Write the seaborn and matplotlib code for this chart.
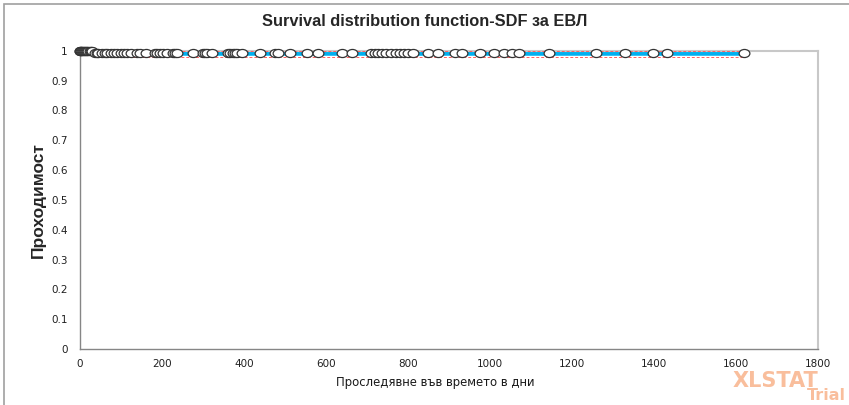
import numpy as np
import pandas as pd
import matplotlib
matplotlib.use("Agg")
import matplotlib.pyplot as plt
import seaborn as sns
from matplotlib.path import Path
from matplotlib.transforms import Affine2D
from matplotlib.patches import Rectangle

# censored observations (days) still at survival 1 before the single event
censored_early = [0, 1, 2, 3, 5, 7, 9, 11, 14, 17, 20, 24, 27, 30]
event_day = 33
surv_after = 0.9933
lower_after = 0.979
upper_after = 1.0
last_day = 1620

# censored observations after the event (days)
censored_late = [36, 41, 45, 54, 60, 66, 76, 83, 90, 100, 107, 115, 124, 139, 146, 161, 182,
                 188, 195, 202, 212, 228, 232, 237, 276, 300, 305, 310, 322, 362, 366, 373,
                 378, 383, 395, 439, 476, 483, 512, 554, 580, 639, 663, 710, 720, 727, 737,
                 746, 759, 771, 780, 790, 800, 812, 849, 873, 915, 932, 976, 1010, 1034,
                 1054, 1071, 1144, 1259, 1329, 1398, 1432, 1620]

step_t = [0, event_day, last_day]
step_s = [1.0, surv_after, surv_after]
step_lo = [1.0, lower_after, lower_after]
step_hi = [1.0, upper_after, upper_after]

curve = pd.DataFrame({"t": step_t, "s": step_s, "lo": step_lo, "hi": step_hi})
pts = pd.DataFrame({
    "t": censored_early + censored_late,
    "s": [1.0] * len(censored_early) + [surv_after] * len(censored_late),
})

sns.set_style("white")
plt.rcParams["font.family"] = ["DejaVu Sans"]

fig = plt.figure(figsize=(8.49, 4.05), dpi=100)
ax = fig.add_axes([80 / 849, 1 - 349 / 405, 738 / 849, 298.3 / 405])

sns.lineplot(data=curve, x="t", y="s", drawstyle="steps-post", color="#00B0F0",
             lw=4, ax=ax, zorder=2, clip_on=False)
sns.lineplot(data=curve, x="t", y="lo", drawstyle="steps-post", color="#FF6060",
             lw=0.7, ls=(0, (3, 2)), ax=ax, zorder=3, clip_on=False)
sns.lineplot(data=curve, x="t", y="hi", drawstyle="steps-post", color="#FF6060",
             lw=0.7, ls=(0, (3, 2)), ax=ax, zorder=3, clip_on=False)

ellipse = Path.unit_circle().transformed(Affine2D().scale(1, 0.75))
sns.scatterplot(data=pts, x="t", y="s", marker=ellipse, s=60, color="white",
                edgecolor="#333333", linewidth=0.9, ax=ax, zorder=4, clip_on=False)

ax.set_xlim(0, 1800)
ax.set_ylim(0, 1)
ax.set_xticks(np.arange(0, 1801, 200))
ax.set_yticks(np.round(np.arange(0, 1.01, 0.1), 1))
ax.set_yticklabels(["0"] + [f"{v:.1f}" for v in np.arange(0.1, 0.95, 0.1)] + ["1"])
ax.tick_params(axis="both", direction="out", length=5, width=0.8, color="#868686",
               labelsize=7.5, labelcolor="#202020")
ax.tick_params(axis="x", pad=2)
ax.tick_params(axis="y", pad=4)

for side in ["left", "bottom"]:
    ax.spines[side].set_color("#868686")
    ax.spines[side].set_linewidth(1.0)
for side in ["top", "right"]:
    ax.spines[side].set_color("#c8c8c8")
    ax.spines[side].set_linewidth(1.5)

ax.set_xlabel("Проследявне във времето в дни", fontsize=8.4, color="#1a1a1a")
ax.xaxis.set_label_coords((435 - 80) / 738, -(376 - 349) / 298.3)
ax.set_ylabel("Проходимост", fontsize=12.5, fontweight="bold", family="Liberation Sans")
ax.yaxis.set_label_coords(-(80 - 46) / 738, 0.5)

fig.text(0.5, 1 - 22 / 405, "Survival distribution function-SDF за ЕВЛ",
         ha="center", va="center", fontsize=11.8, fontweight="bold",
         family="Liberation Sans")

# outer chart border
fig.patches.append(Rectangle((3.5 / 849, -0.1), 2, 1.1 - 4.5 / 405, fill=False,
                             edgecolor="#a0a0a0", lw=1.2, transform=fig.transFigure))

# watermark
fig.text(818 / 849, 1 - 381 / 405, "XLSTAT", ha="right", va="center", fontsize=15,
         fontweight="bold", color="#F9BE9C")
fig.text(846 / 849, 1 - 396 / 405, "Trial", ha="right", va="center", fontsize=11.5,
         fontweight="bold", color="#F9BE9C")

fig.savefig("out.png", dpi=100)
